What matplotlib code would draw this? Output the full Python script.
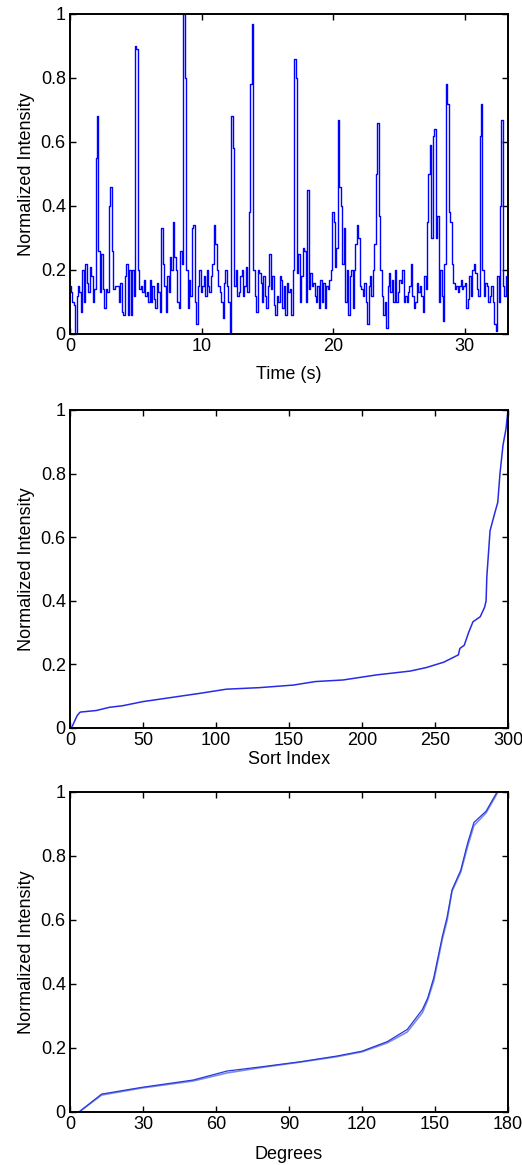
import matplotlib
matplotlib.use("Agg")
import matplotlib.pyplot as plt
import numpy as np
from matplotlib.ticker import FuncFormatter

plt.rcParams['font.family'] = ['Liberation Sans', 'DejaVu Sans']

# ---------------- data ----------------
sample_period = 33.3 / 300  # seconds per sample

intensity = [
    0.15, 0.13, 0.10, 0.09, 0.00, 0.12, 0.15, 0.13, 0.07,
    0.20, 0.10, 0.22, 0.16, 0.13, 0.21, 0.18, 0.10, 0.14,
    0.55, 0.68, 0.26, 0.13, 0.25, 0.14, 0.08, 0.14, 0.13,
    0.40, 0.46, 0.26, 0.14, 0.15, 0.15, 0.15, 0.10, 0.16,
    0.07, 0.06, 0.18, 0.22, 0.06, 0.20, 0.06, 0.20, 0.12,
    0.90, 0.89, 0.20, 0.14, 0.15, 0.13, 0.17, 0.12, 0.13,
    0.10, 0.17, 0.10, 0.15, 0.11, 0.08, 0.16, 0.13, 0.07,
    0.33, 0.22, 0.15, 0.07, 0.18, 0.13, 0.24, 0.20, 0.35,
    0.24, 0.20, 0.10, 0.08, 0.26, 0.22, 1.00, 0.80, 0.20,
    0.08, 0.17, 0.12, 0.33, 0.34, 0.10, 0.03, 0.15, 0.20,
    0.13, 0.15, 0.18, 0.12, 0.20, 0.15, 0.13, 0.18, 0.22,
    0.34, 0.28, 0.20, 0.15, 0.13, 0.10, 0.05, 0.16, 0.20,
    0.15, 0.10, 0.00, 0.68, 0.58, 0.15, 0.20, 0.12, 0.13,
    0.18, 0.20, 0.12, 0.15, 0.21, 0.13, 0.38, 0.78, 0.97,
    0.20, 0.12, 0.07, 0.20, 0.19, 0.16, 0.10, 0.18, 0.12,
    0.08, 0.15, 0.25, 0.14, 0.18, 0.09, 0.06, 0.12, 0.10,
    0.18, 0.17, 0.08, 0.15, 0.06, 0.16, 0.13, 0.14, 0.06,
    0.20, 0.86, 0.80, 0.19, 0.25, 0.10, 0.18, 0.27, 0.26,
    0.10, 0.45, 0.14, 0.19, 0.15, 0.16, 0.12, 0.10, 0.15,
    0.08, 0.17, 0.10, 0.16, 0.08, 0.15, 0.14, 0.17, 0.20,
    0.38, 0.35, 0.21, 0.27, 0.67, 0.46, 0.40, 0.22, 0.33,
    0.10, 0.20, 0.06, 0.18, 0.20, 0.08, 0.20, 0.28, 0.34,
    0.30, 0.15, 0.14, 0.12, 0.16, 0.10, 0.03, 0.15, 0.18,
    0.12, 0.20, 0.28, 0.50, 0.66, 0.37, 0.20, 0.12, 0.06,
    0.10, 0.02, 0.15, 0.19, 0.13, 0.17, 0.10, 0.20, 0.10,
    0.13, 0.17, 0.16, 0.20, 0.10, 0.12, 0.10, 0.13, 0.15,
    0.22, 0.12, 0.08, 0.10, 0.16, 0.13, 0.15, 0.12, 0.07,
    0.18, 0.14, 0.35, 0.50, 0.59, 0.30, 0.62, 0.64, 0.30,
    0.37, 0.10, 0.20, 0.12, 0.04, 0.22, 0.78, 0.72, 0.38,
    0.35, 0.22, 0.16, 0.14, 0.15, 0.13, 0.15, 0.17, 0.14,
    0.15, 0.16, 0.08, 0.11, 0.18, 0.12, 0.20, 0.22, 0.19,
    0.14, 0.12, 0.62, 0.72, 0.20, 0.12, 0.16, 0.15, 0.10,
    0.12, 0.15, 0.10, 0.03, 0.01, 0.18, 0.10, 0.40, 0.67,
    0.15, 0.12, 0.18,
]

sort_index = [1, 3, 5, 7, 18, 27, 36, 50, 68, 89, 107, 130, 153, 168, 187,
              210, 233, 244, 256, 266, 267, 270, 273, 276, 281, 284, 285,
              285.5, 287.7, 290, 293, 294.5, 296.6, 298.6, 300]
sorted_intensity = [0.0, 0.02, 0.04, 0.05, 0.055, 0.065, 0.07, 0.083, 0.095,
                    0.109, 0.122, 0.127, 0.135, 0.146, 0.151, 0.167, 0.179,
                    0.19, 0.207, 0.23, 0.25, 0.26, 0.30, 0.334, 0.35, 0.38,
                    0.40, 0.476, 0.62, 0.66, 0.71, 0.80, 0.89, 0.94, 1.0]

degrees = [3.7, 13, 29.5, 50.7, 64.5, 79.5, 94.7, 109.8, 120, 130.4, 138.6,
           144.8, 147, 149.5, 153, 155, 157, 160.6, 163.4, 166, 171, 175.5]
deg_intensity_a = [0.0, 0.056, 0.077, 0.100, 0.128, 0.142, 0.157, 0.175, 0.190,
                   0.220, 0.258, 0.320, 0.356, 0.420, 0.548, 0.610, 0.694,
                   0.756, 0.840, 0.905, 0.940, 1.0]
deg_intensity_b = [0.0, 0.053, 0.075, 0.097, 0.122, 0.140, 0.156, 0.173, 0.188,
                   0.216, 0.250, 0.310, 0.350, 0.410, 0.540, 0.600, 0.690,
                   0.750, 0.830, 0.895, 0.935, 0.995]

# ---------------- figure ----------------
W, H = 522, 1165
fig = plt.figure(figsize=(W / 100, H / 100), dpi=100)

def rect(top, bottom, left=70, right=508):
    return [left / W, 1 - bottom / H, (right - left) / W, (bottom - top) / H]

ax1 = fig.add_axes(rect(14, 334))
ax2 = fig.add_axes(rect(410, 728))
ax3 = fig.add_axes(rect(792, 1112))

blue = '#0000ff'
time = np.arange(len(intensity)) * sample_period
ax1.plot(time, intensity, color=blue, lw=1.0, drawstyle='steps-mid')
ax2.plot(sort_index, sorted_intensity, color='#2a2ae6', lw=1.1)
ax3.plot(degrees, deg_intensity_b, color='#7a8ae8', lw=1.2)
ax3.plot(degrees, deg_intensity_a, color='#2a3ad8', lw=0.9)

fmt = FuncFormatter(lambda v, p: ('%g' % round(v, 6)))
for ax, xlim, xticks, xlabel, lpad in [
        (ax1, (0, 33.3), [0, 10, 20, 30], 'Time (s)', 8),
        (ax2, (0, 300), [0, 50, 100, 150, 200, 250, 300], 'Sort Index', 1),
        (ax3, (0, 180), [0, 30, 60, 90, 120, 150, 180], 'Degrees', 9)]:
    ax.set_xlim(*xlim)
    ax.set_ylim(0, 1)
    ax.set_xticks(xticks)
    ax.set_yticks([0, 0.2, 0.4, 0.6, 0.8, 1.0])
    ax.xaxis.set_major_formatter(fmt)
    ax.yaxis.set_major_formatter(fmt)
    ax.tick_params(direction='in', top=True, right=True, length=4, width=1.0,
                   labelsize=13, pad=3, colors='black')
    for s in ax.spines.values():
        s.set_linewidth(1.4)
    ax.set_xlabel(xlabel, fontsize=13, labelpad=lpad)
    ax.set_ylabel('Normalized Intensity', fontsize=13, labelpad=4)

fig.savefig('out.png', dpi=100)
